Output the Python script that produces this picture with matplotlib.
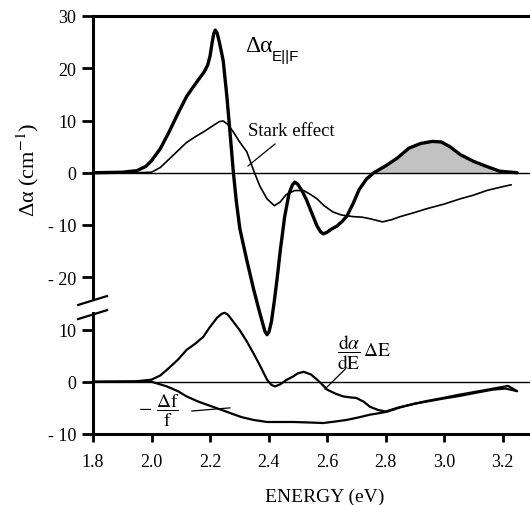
import matplotlib
matplotlib.use('Agg')
import matplotlib.pyplot as plt
import matplotlib.transforms as mtransforms
import numpy as np

plt.rcParams['font.family'] = ['Liberation Serif', 'DejaVu Serif']
plt.rcParams['mathtext.fontset'] = 'stix'

# curva grossa: delta alpha com E || F (painel de cima)
e_campo = [1.80, 1.90, 1.95, 1.98, 2.00, 2.03, 2.06, 2.09, 2.12, 2.15, 2.18, 2.192,
           2.20, 2.207, 2.213, 2.218, 2.224, 2.232, 2.245, 2.257, 2.268, 2.28, 2.29,
           2.302, 2.326, 2.35, 2.37, 2.38, 2.388, 2.395, 2.402, 2.41, 2.42, 2.43,
           2.44, 2.455, 2.47, 2.482, 2.49, 2.50, 2.515, 2.53, 2.55, 2.566, 2.578,
           2.587, 2.60, 2.615, 2.634, 2.652, 2.668, 2.69, 2.71, 2.735, 2.76, 2.80,
           2.84, 2.88, 2.92, 2.96, 2.99, 3.02, 3.055, 3.10, 3.146, 3.19, 3.25]
da_campo = [0.0, 0.1, 0.4, 1.2, 2.3, 4.6, 7.8, 11.3, 14.6, 17.0, 19.3, 20.6,
            22.3, 24.8, 26.7, 27.3, 26.8, 25.0, 21.5, 15.0, 8.0, 0.0, -5.5,
            -10.7, -16.8, -22.5, -26.8, -28.8, -30.4, -31.0, -30.4, -28.5, -24.5, -20.0,
            -15.0, -8.5, -4.0, -2.3, -1.8, -2.2, -3.5, -5.2, -8.0, -10.2, -11.3,
            -11.7, -11.4, -10.8, -10.2, -9.3, -8.3, -5.8, -3.2, -1.2, 0.0, 1.3,
            2.8, 4.7, 5.6, 6.0, 5.9, 5.0, 3.5, 2.2, 1.2, 0.3, 0.0]

# curva fina: efeito Stark
e_stark = [1.80, 1.95, 2.00, 2.03, 2.06, 2.09, 2.12, 2.15, 2.18, 2.21, 2.232, 2.245,
           2.26, 2.28, 2.30, 2.326, 2.35, 2.37, 2.395, 2.42, 2.44, 2.46, 2.49, 2.52,
           2.545, 2.566, 2.59, 2.62, 2.65, 2.69, 2.72, 2.747, 2.79, 2.82, 2.85,
           2.90, 2.94, 3.00, 3.055, 3.10, 3.146, 3.19, 3.23]
da_stark = [0.0, 0.0, 0.1, 1.0, 2.6, 4.2, 5.8, 6.9, 7.9, 9.0, 9.8, 9.9,
            9.3, 7.8, 6.0, 4.0, 0.3, -2.5, -5.0, -6.3, -5.6, -4.2, -3.4, -3.4,
            -4.2, -5.0, -6.3, -7.5, -8.1, -8.4, -8.5, -8.8, -9.4, -9.0, -8.4,
            -7.6, -6.9, -6.0, -5.0, -4.3, -3.4, -2.8, -2.3]

# painel de baixo: (d alpha / dE) * delta E
e_deriv = [1.80, 1.95, 2.00, 2.03, 2.053, 2.09, 2.12, 2.15, 2.177, 2.20, 2.225, 2.24,
           2.25, 2.26, 2.27, 2.30, 2.325, 2.348, 2.37, 2.395, 2.41, 2.422, 2.44, 2.46,
           2.484, 2.50, 2.52, 2.545, 2.566, 2.585, 2.60, 2.63, 2.655, 2.68, 2.70,
           2.725, 2.747, 2.775, 2.80, 2.84, 2.884, 2.94, 2.997, 3.05, 3.11, 3.16,
           3.219, 3.25]
da_deriv = [0.0, 0.1, 0.4, 1.2, 2.3, 4.2, 6.1, 7.3, 8.6, 10.5, 12.3, 13.0,
            13.2, 12.9, 12.2, 10.0, 7.8, 5.5, 3.2, 0.4, -0.6, -0.9, -0.5, 0.3,
            1.0, 1.6, 1.9, 1.4, 0.4, -0.6, -1.5, -2.3, -2.8, -3.0, -3.1,
            -3.8, -4.8, -5.4, -5.7, -5.0, -4.4, -3.7, -3.1, -2.5, -1.9, -1.4,
            -0.8, -1.8]

# painel de baixo: - delta f / f
e_osc = [1.80, 2.00, 2.053, 2.09, 2.12, 2.16, 2.21, 2.25, 2.279, 2.31, 2.348, 2.395,
         2.44, 2.484, 2.54, 2.587, 2.63, 2.668, 2.71, 2.747, 2.78, 2.808, 2.85,
         2.90, 2.94, 3.00, 3.055, 3.11, 3.168, 3.21, 3.25]
da_osc = [0.0, 0.0, -0.9, -1.8, -2.8, -3.8, -4.8, -5.6, -6.2, -6.8, -7.3, -7.7,
          -7.7, -7.7, -7.8, -7.9, -7.6, -7.3, -6.8, -6.3, -6.0, -5.7, -4.9,
          -4.2, -3.8, -3.2, -2.7, -2.1, -1.5, -1.3, -1.8]

yticks = [30, 20, 10, 0, -10, -20, -30, -40, -50]
ytick_labels = ['30', '20', '10', '0', '- 10', '- 20', '10', '0', '- 10']
xticks = [1.8, 2.0, 2.2, 2.4, 2.6, 2.8, 3.0, 3.2]

desloc = -40  # o painel de baixo fica 40 unidades abaixo

fig = plt.figure(figsize=(5.3, 5.06), dpi=100)
ax = fig.add_axes([93 / 530, 1 - 435 / 506, 437 / 530, 418 / 506])
ax.set_xlim(1.8, 3.294)
ax.set_ylim(-50, 30)

for lado in ['left', 'right']:
    ax.spines[lado].set_visible(False)
ax.spines['top'].set_linewidth(2.2)
ax.spines['bottom'].set_linewidth(2.2)

# eixo y quebrado
mix = mtransforms.blended_transform_factory(ax.transAxes, ax.transData)
ax.plot([0, 0], [30, -24.2], color='black', lw=2.2, transform=mix, clip_on=False)
ax.plot([0, 0], [-26.8, -50], color='black', lw=2.2, transform=mix, clip_on=False)
ax.plot([-0.034, 0.032], [-25.3, -23.6], color='black', lw=1.6, transform=mix, clip_on=False)
ax.plot([-0.034, 0.032], [-28.0, -26.3], color='black', lw=1.6, transform=mix, clip_on=False)

ax.axhline(0, color='black', lw=1.0)
ax.axhline(desloc, color='black', lw=1.0)

e_campo_arr = np.array(e_campo)
da_campo_arr = np.array(da_campo)
ax.fill_between(e_campo_arr, da_campo_arr, 0,
                where=(e_campo_arr > 2.7) & (da_campo_arr >= 0),
                color='#c2c2c2', interpolate=True, lw=0)

estilo = dict(color='black', solid_joinstyle='round', solid_capstyle='round')
ax.plot(e_campo, da_campo, lw=2.4, **estilo)
ax.plot(e_stark, da_stark, lw=1.2, **estilo)
ax.plot(e_deriv, np.array(da_deriv) + desloc, lw=1.6, **estilo)
ax.plot(e_osc, np.array(da_osc) + desloc, lw=1.6, **estilo)

ax.set_yticks(yticks)
ax.set_yticklabels(ytick_labels)
ax.set_xticks(xticks)
ax.set_xticklabels(['%.1f' % v for v in xticks])
ax.tick_params(axis='y', direction='out', length=8, width=2, pad=4, labelsize=13)
ax.tick_params(axis='x', direction='out', length=6, width=2, pad=8, labelsize=13)

# rotulos das curvas
ax.text(2.32, 23.3, 'Δα', fontsize=17, va='baseline')
ax.text(2.412, 21.6, 'E||F', fontsize=11, va='baseline', family=['Liberation Sans', 'DejaVu Sans'])
ax.text(2.33, 8.0, 'Stark effect', fontsize=13.5, va='center')
ax.plot([2.33, 2.422], [1.3, 5.5], color='black', lw=0.9)
ax.text(2.635, -34.3, r'$\dfrac{\mathrm{d}\alpha}{\mathrm{dE}}\,\Delta\mathrm{E}$',
        fontsize=14, va='center')
ax.plot([2.662, 2.593], [-37.6, -41.4], color='black', lw=0.9)
ax.text(1.955, -45.4, r'$-\ \dfrac{\Delta\mathrm{f}}{\mathrm{f}}$', fontsize=14, va='center')
ax.plot([2.138, 2.268], [-45.6, -45.0], color='black', lw=0.9)

fig.text(28 / 530, 1 - 170 / 506, 'Δα (cm$^{-1}$)', rotation=90,
         ha='center', va='center', fontsize=16)
fig.text(325 / 530, 1 - 497 / 506, 'ENERGY (eV)', ha='center', va='center', fontsize=14)

fig.savefig('out.png', dpi=100)
